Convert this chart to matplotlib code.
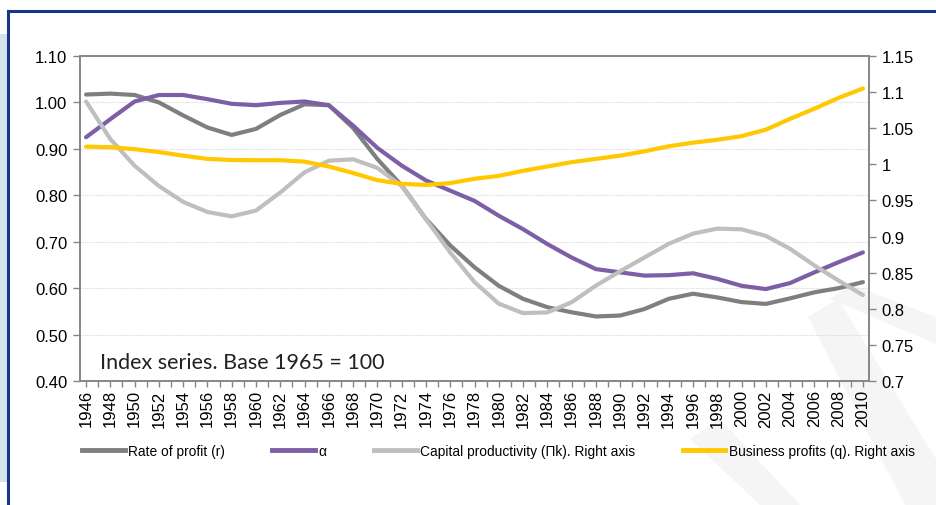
import matplotlib
matplotlib.use("Agg")
import matplotlib.pyplot as plt
from matplotlib.ticker import MultipleLocator, FuncFormatter
from matplotlib.patches import Rectangle, Polygon
from matplotlib.lines import Line2D

years = list(range(1946, 2011, 2))

rate_of_profit = [1.017, 1.019, 1.016, 1.000, 0.972, 0.946, 0.930, 0.943, 0.973, 0.996,
                  0.994, 0.945, 0.878, 0.821, 0.749, 0.692, 0.645, 0.605, 0.577, 0.559,
                  0.548, 0.539, 0.541, 0.555, 0.577, 0.588, 0.580, 0.570, 0.566, 0.578,
                  0.591, 0.600, 0.613]

alpha_share = [0.925, 0.964, 1.002, 1.016, 1.016, 1.007, 0.997, 0.994, 0.999, 1.002,
               0.994, 0.950, 0.902, 0.864, 0.832, 0.810, 0.788, 0.756, 0.727, 0.695,
               0.666, 0.641, 0.634, 0.627, 0.628, 0.632, 0.620, 0.605, 0.598, 0.611,
               0.634, 0.656, 0.677]

capital_productivity = [1.087, 1.035, 0.998, 0.970, 0.948, 0.934, 0.928, 0.936, 0.961, 0.989,
                        1.005, 1.007, 0.995, 0.970, 0.924, 0.878, 0.837, 0.807, 0.794, 0.795,
                        0.809, 0.832, 0.852, 0.871, 0.890, 0.904, 0.911, 0.910, 0.901, 0.883,
                        0.860, 0.839, 0.819]

business_profits = [1.0245, 1.0237, 1.021, 1.017, 1.012, 1.0075, 1.006, 1.0057, 1.0057, 1.0037,
                    0.997, 0.988, 0.978, 0.973, 0.9715, 0.974, 0.980, 0.984, 0.991, 0.997,
                    1.003, 1.0075, 1.012, 1.018, 1.025, 1.030, 1.034, 1.039, 1.048, 1.063,
                    1.077, 1.092, 1.105]

labels = ["Rate of profit (r)", "α", "Capital productivity (Πk). Right axis",
          "Business profits (q). Right axis"]
colors = ["#7f7f7f", "#7c5fa6", "#bfbfbf", "#ffc800"]
note = "Index series. Base 1965 = 100"

plt.rcParams['font.family'] = ['Liberation Sans', 'DejaVu Sans']

W, H = 936, 506
fig = plt.figure(figsize=(W / 100, H / 100), dpi=100)


def px(x, y):
    return (x / W, 1 - y / H)


# background decorations (frame, side band, faint watermark)
fig.patches.append(Rectangle(px(0, 483), 7 / W, (483 - 35) / H, transform=fig.transFigure,
                             facecolor="#d5e3ef", edgecolor="none", zorder=-2))
fig.add_artist(Line2D([8 / W, 1], [1 - 12 / H, 1 - 12 / H], transform=fig.transFigure,
                      color="#14378c", lw=2.2, zorder=1))
fig.add_artist(Line2D([8 / W, 8 / W], [1 - 12 / H, 0], transform=fig.transFigure,
                      color="#14378c", lw=2.2, zorder=1))
for poly in ([(808, 318), (838, 300), (936, 460), (936, 506), (905, 506)],
             [(690, 440), (720, 420), (800, 506), (760, 506)],
             [(830, 300), (850, 285), (936, 318), (936, 345)]):
    fig.patches.append(Polygon([px(a, b) for a, b in poly], closed=True,
                               transform=fig.transFigure, facecolor="#f5f5f5",
                               edgecolor="none", zorder=-2))

ax = fig.add_axes([80 / W, 1 - 382 / H, (869 - 80) / W, (382 - 57) / H])
ax.set_facecolor("none")
ax2 = ax.twinx()

ax.plot(years, rate_of_profit, color=colors[0], lw=3.0, solid_capstyle="round", zorder=3)
ax.plot(years, alpha_share, color=colors[1], lw=3.0, solid_capstyle="round", zorder=4)
ax2.plot(years, capital_productivity, color=colors[2], lw=3.0, solid_capstyle="round", zorder=3)
ax2.plot(years, business_profits, color=colors[3], lw=3.0, solid_capstyle="round", zorder=3)

ax.set_xlim(1945.5, 2010.5)
ax.set_ylim(0.40, 1.10)
ax2.set_ylim(0.70, 1.15)
ax.yaxis.set_major_locator(MultipleLocator(0.1))
ax.yaxis.set_major_formatter(FuncFormatter(lambda v, p: f"{v:.2f}"))
ax2.yaxis.set_major_locator(MultipleLocator(0.05))
ax2.yaxis.set_major_formatter(FuncFormatter(lambda v, p: f"{round(v, 2):g}"))

ax.set_xticks(years)
ax.set_xticklabels([str(y) for y in years], rotation=90)
ax.xaxis.set_minor_locator(MultipleLocator(1))

ax.grid(axis="y", color="#d9d9d9", lw=0.8, ls=(0, (1, 1)))
ax.set_axisbelow(True)

for a in (ax, ax2):
    for s in a.spines.values():
        s.set_color("#868686")
        s.set_linewidth(1.2)
ax.tick_params(axis="y", which="both", direction="out", length=5, width=1, color="#868686",
               labelsize=12, pad=4, labelcolor="black")
ax2.tick_params(axis="y", direction="out", length=5, width=1, color="#868686",
                labelsize=12, pad=4, labelcolor="black")
ax.tick_params(axis="x", which="both", direction="out", length=4, width=1, color="#868686",
               labelsize=12, pad=2, labelcolor="black")

fig.text(100 / W, 1 - 369 / H, note, family=["Lato", "DejaVu Sans"], fontsize=15.5,
         color="#222222", va="baseline", ha="left")

handles = [Line2D([], [], color=c, lw=3.5) for c in colors]
fig.legend(handles, labels, loc="center left", bbox_to_anchor=(82 / W, 1 - 452 / H),
           ncol=4, frameon=False, fontsize=9.9, handlelength=3.1, handletextpad=0.25,
           columnspacing=3.45, borderaxespad=0, borderpad=0)

fig.savefig("out.png", dpi=100)
